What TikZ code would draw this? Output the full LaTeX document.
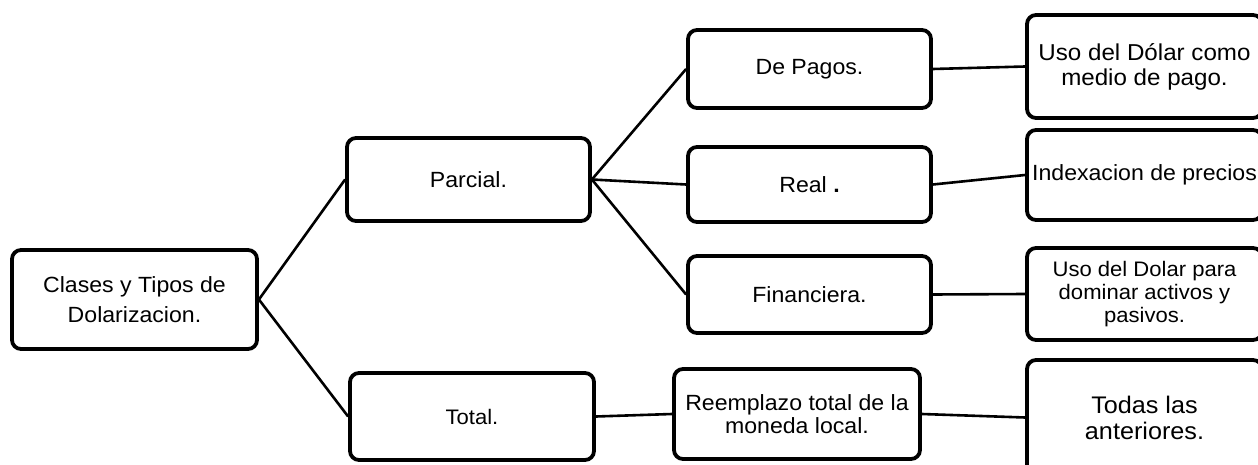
\documentclass[tikz,border=0pt]{standalone}
\usepackage{fontspec}
\setmainfont[FakeStretch=1.05]{Liberation Sans}

\tikzset{
  typebox/.style={draw, line width=1.9pt, rounded corners=4.5pt, align=center, inner sep=1pt, font=\fontsize{11}{13}\selectfont},
  conn/.style={line width=1.3pt}
}

\begin{document}
\begin{tikzpicture}[x=0.5pt,y=-0.5pt]
\useasboundingbox (0,0) rectangle (1258,465);
\clip (0,0) rectangle (1258,465);

% Root
\node[typebox, minimum width=122.5pt, minimum height=49.5pt, font=\fontsize{11}{15}\selectfont] (clases) at (134.5,299.5) {Clases y Tipos de\\ Dolarizacion.};

% Classes
\node[typebox, minimum width=121.5pt, minimum height=41.5pt] (parcial) at (468.5,179.5) {Parcial.};
\node[typebox, minimum width=122pt, minimum height=43.5pt, font=\fontsize{10.5}{13}\selectfont] (total) at (472,416.5) {Total.};

% Types
\node[typebox, minimum width=121.5pt, minimum height=39pt] (pagos) at (809.5,69) {De Pagos.};
\node[typebox, minimum width=121.5pt, minimum height=37.5pt] (real) at (809.5,184.5) {\raisebox{-3pt}{Real \textbf{.}}};
\node[typebox, minimum width=121.5pt, minimum height=38.5pt] (financiera) at (809.5,294.5) {Financiera.};
\node[typebox, minimum width=123pt, minimum height=45pt, font=\fontsize{11}{11.5}\selectfont] (reemplazo) at (797,414) {Reemplazo total de la\\ moneda local.};

% Meanings
\node[typebox, minimum width=117.5pt, minimum height=51.5pt, font=\fontsize{11.5}{12.5}\selectfont] (usopago) at (1144.5,66.5) {Uso del Dólar como\\ medio de pago.};
\node[typebox, minimum width=117.5pt, minimum height=45pt] (indexacion) at (1144.5,175) {Indexacion de precios};
\node[typebox, minimum width=117.5pt, minimum height=46pt, font=\fontsize{10.5}{11.5}\selectfont] (usoactivos) at (1144.5,294) {Uso del Dolar para\\ dominar activos y\\ pasivos.};
\node[typebox, minimum width=117.5pt, minimum height=57.5pt, font=\fontsize{12}{13}\selectfont] (todas) at (1144.5,417.5) {Todas las\\ anteriores.};

% Links
\draw[conn] (clases.east) -- (parcial.west);
\draw[conn] (clases.east) -- (total.west);
\draw[conn] (parcial.east) -- (pagos.west);
\draw[conn] (parcial.east) -- (real.west);
\draw[conn] (parcial.east) -- (financiera.west);
\draw[conn] (pagos.east) -- (usopago.west);
\draw[conn] (real.east) -- (indexacion.west);
\draw[conn] (financiera.east) -- (usoactivos.west);
\draw[conn] (total.east) -- (reemplazo.west);
\draw[conn] (reemplazo.east) -- (todas.west);
\end{tikzpicture}
\end{document}
